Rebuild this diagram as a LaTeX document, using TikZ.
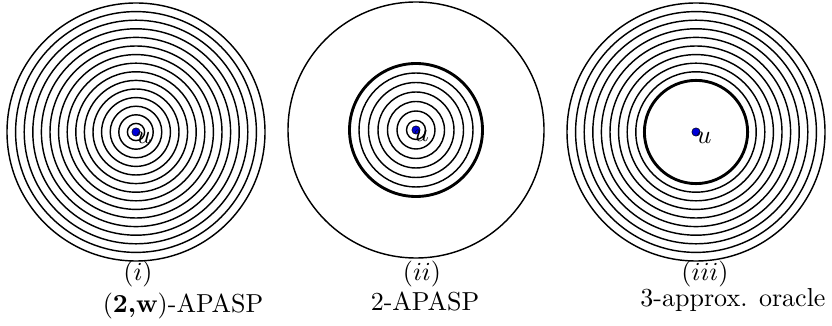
\documentclass[tikz,border=0pt]{standalone}
\usepackage{amsmath}

\begin{document}
\begin{tikzpicture}[x=0.3846pt,y=0.3846pt]
    \tikzset{
        ring/.style={line width=0.55pt},
        bigring/.style={line width=1.1pt},
        vertex/.style={circle, fill=blue!85!black, draw=black, line width=0.2pt, inner sep=0pt, minimum size=3.2pt}
    }
    \useasboundingbox (0,0) rectangle (832,326);

    % centres of the three balls
    \coordinate (cI)   at (136,194);
    \coordinate (cII)  at (416,196);
    \coordinate (cIII) at (696,194);

    % (i): all balls around u
    \foreach \k in {1,...,15}
        \draw[ring] (cI) circle[radius=8.6*\k];

    % (ii): small balls inside, one big ball outside
    \foreach \k in {1,...,6}
        \draw[ring] (cII) circle[radius=9.5*\k];
    \draw[bigring] (cII) circle[radius=66.5];
    \draw[ring] (cII) circle[radius=128];

    % (iii): empty inner ball, then the rest
    \draw[bigring] (cIII) circle[radius=51.6];
    \foreach \k in {7,...,15}
        \draw[ring] (cIII) circle[radius=8.6*\k];

    % the vertex u
    \node[vertex] (uI)   at (cI)   {};
    \node[vertex] (uII)  at (cII)  {};
    \node[vertex] (uIII) at (cIII) {};
    \node[anchor=north, inner sep=0pt] (labI)   at ([xshift=3]uI.center)  {$u$};
    \node[anchor=north, inner sep=0pt] (labII)  at ([xshift=2]uII.center) {$u$};
    \node[anchor=north west, inner sep=0pt] (labIII) at (uIII.center) {$u$};

    % captions
    \node[anchor=base] (capI)   at (138,45) {$(i)$};
    \node[anchor=base] (capII)  at (422,45) {$(ii)$};
    \node[anchor=base] (capIII) at (705,45) {$(iii)$};
    \node[anchor=base] (nameI)   at (183,13) {(\textbf{2,w})-APASP};
    \node[anchor=base] (nameII)  at (425,15) {2-APASP};
    \node[anchor=base] (nameIII) at (733,19) {3-approx. oracle};

\end{tikzpicture}
\end{document}
